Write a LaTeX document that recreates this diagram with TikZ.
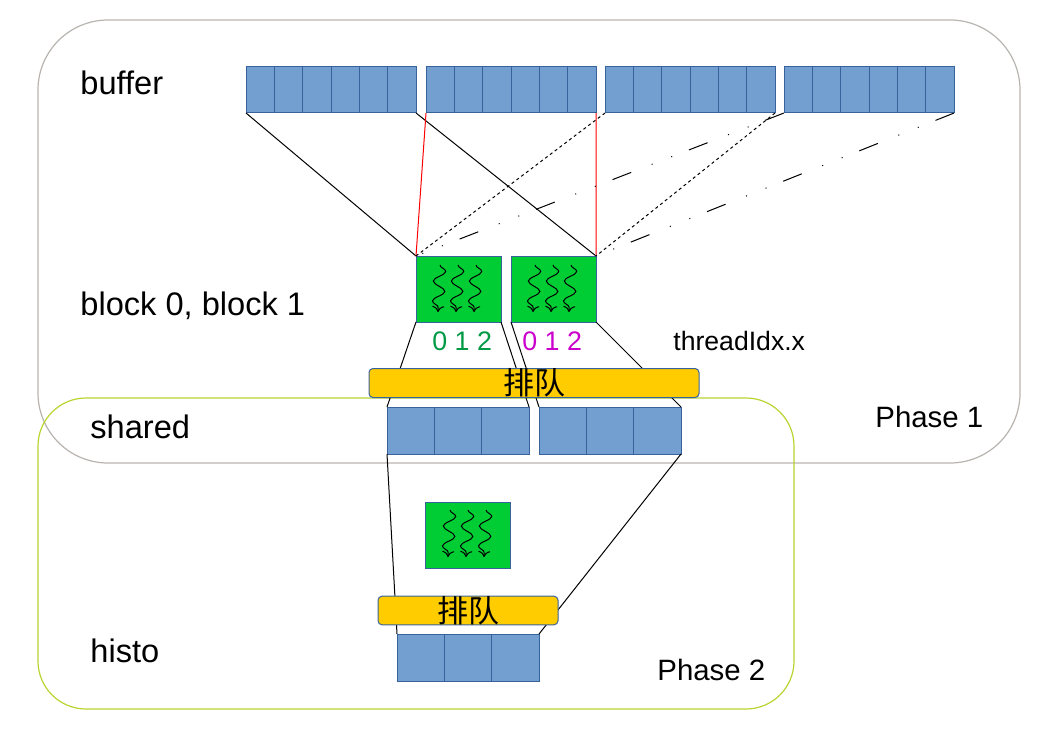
\documentclass[tikz,border=0pt]{standalone}
\usepackage{fontspec}
\setmainfont{Liberation Sans}
\newfontfamily\cjk{Noto Sans CJK SC}
\usepackage{tikz}
\usetikzlibrary{decorations.pathmorphing,arrows.meta}
\usepackage{xcolor}
\definecolor{cellblue}{RGB}{114,159,207}
\definecolor{edgeblue}{RGB}{56,98,156}
\definecolor{blockgreen}{RGB}{0,204,51}
\definecolor{baryellow}{RGB}{255,204,0}
\definecolor{phaseone}{RGB}{184,180,176}
\definecolor{phasetwo}{RGB}{184,212,48}
\definecolor{tidgreen}{RGB}{0,153,68}
\definecolor{tidmagenta}{RGB}{204,0,204}

\begin{document}
\begin{tikzpicture}[x=.5pt, y=-.5pt,
        bcell/.style={rectangle,draw=edgeblue,fill=cellblue,line width=.5pt,inner sep=0,outer sep=0,minimum width=14.17pt,minimum height=23pt},
        scell/.style={bcell,minimum width=23.67pt,minimum height=23.5pt},
        blk/.style={rectangle,draw=edgeblue,fill=blockgreen,line width=.5pt,inner sep=0,outer sep=0,minimum width=42.5pt,minimum height=33pt},
        bar/.style={rectangle,rounded corners=2pt,draw=edgeblue,fill=baryellow,line width=.5pt,inner sep=0,outer sep=0,font=\cjk\fontsize{15.5pt}{15.5pt}\selectfont},
        thread/.style={decorate,decoration={snake,amplitude=3pt,segment length=10pt,post length=2pt},line width=.5pt,-{To[length=3pt,width=6pt]}},
        lbl/.style={anchor=base west,inner sep=0,font=\fontsize{16.3pt}{19pt}\selectfont},
        small/.style={anchor=base west,inner sep=0,font=\fontsize{13.4pt}{16pt}\selectfont},
        dotline/.style={dash pattern=on 1.5pt off 1.5pt},
        dashdotdot/.style={dash pattern=on 10pt off 9pt on .5pt off 10pt on .5pt off 11pt}]
        \useasboundingbox (0,0) rectangle (1044,733);
        % phases
        \draw[phaseone,line width=.6pt,rounded corners=35pt] (38,20) rectangle (1020,463);
        \draw[phasetwo,line width=.6pt,rounded corners=24pt] (38,398) rectangle (794,709);
        % buffer
        \node at (246,67) [bcell,anchor=north west] (buf11) {};
        \node at (buf11.east) [bcell,anchor=west] (buf12) {};
        \node at (buf12.east) [bcell,anchor=west] (buf13) {};
        \node at (buf13.east) [bcell,anchor=west] (buf14) {};
        \node at (buf14.east) [bcell,anchor=west] (buf15) {};
        \node at (buf15.east) [bcell,anchor=west] (buf16) {};
        \node at (426,67) [bcell,anchor=north west] (buf21) {};
        \node at (buf21.east) [bcell,anchor=west] (buf22) {};
        \node at (buf22.east) [bcell,anchor=west] (buf23) {};
        \node at (buf23.east) [bcell,anchor=west] (buf24) {};
        \node at (buf24.east) [bcell,anchor=west] (buf25) {};
        \node at (buf25.east) [bcell,anchor=west] (buf26) {};
        \node at (605,67) [bcell,anchor=north west] (buf31) {};
        \node at (buf31.east) [bcell,anchor=west] (buf32) {};
        \node at (buf32.east) [bcell,anchor=west] (buf33) {};
        \node at (buf33.east) [bcell,anchor=west] (buf34) {};
        \node at (buf34.east) [bcell,anchor=west] (buf35) {};
        \node at (buf35.east) [bcell,anchor=west] (buf36) {};
        \node at (784,67) [bcell,anchor=north west] (buf41) {};
        \node at (buf41.east) [bcell,anchor=west] (buf42) {};
        \node at (buf42.east) [bcell,anchor=west] (buf43) {};
        \node at (buf43.east) [bcell,anchor=west] (buf44) {};
        \node at (buf44.east) [bcell,anchor=west] (buf45) {};
        \node at (buf45.east) [bcell,anchor=west] (buf46) {};
        % blocks
        \node at (416,256) [blk,anchor=north west] (blk0) {};
        \node at (511,256) [blk,anchor=north west] (blk1) {};
        \draw[thread] (440,265) -- (438,312);
        \draw[thread] (458,265) -- (456,312);
        \draw[thread] (476,265) -- (474,312);
        \draw[thread] (535,265) -- (533,312);
        \draw[thread] (553,265) -- (551,312);
        \draw[thread] (571,265) -- (569,312);
        \draw[line width=.5pt] (buf11.south west) -- (blk0.north west);
        \draw[line width=.5pt] (buf16.south east) -- (blk1.north east);
        \draw[red,line width=.5pt] (buf21.south west) -- (blk0.north west);
        \draw[red,line width=.5pt] (buf26.south east) -- (blk1.north east);
        \draw[dotline,line width=.5pt] (buf31.south west) -- (blk0.north west);
        \draw[dotline,line width=.5pt] (buf36.south east) -- (blk1.north east);
        \draw[dashdotdot,line width=.5pt] (buf41.south west) -- (blk0.north west);
        \draw[dashdotdot,line width=.5pt] (buf46.south east) -- (blk1.north east);
        % shared
        \node at (387,407) [scell,anchor=north west] (shA1) {};
        \node at (shA1.east) [scell,anchor=west] (shA2) {};
        \node at (shA2.east) [scell,anchor=west] (shA3) {};
        \node at (539,407) [scell,anchor=north west] (shB1) {};
        \node at (shB1.east) [scell,anchor=west] (shB2) {};
        \node at (shB2.east) [scell,anchor=west] (shB3) {};
        % histo
        \node at (425,502) [blk,anchor=north west] (blk2) {};
        \draw[thread] (450,510) -- (448,557);
        \draw[thread] (468,510) -- (466,557);
        \draw[thread] (486,510) -- (484,557);
        \node at (397,634) [scell,anchor=north west] (hist1) {};
        \node at (hist1.east) [scell,anchor=west] (hist2) {};
        \node at (hist2.east) [scell,anchor=west] (hist3) {};
        \draw[line width=.5pt] (blk0.south west) -- (shA1.north west);
        \draw[line width=.5pt] (blk0.south east) -- (shA3.north east);
        \draw[line width=.5pt] (blk1.south west) -- (shB1.north west);
        \draw[line width=.5pt] (blk1.south east) -- (shB3.north east);
        \draw[line width=.5pt] (shA1.south west) -- (hist1.north west);
        \draw[line width=.5pt] (shB3.south east) -- (hist3.north east);
        \node at (534,383) [bar,minimum width=165pt,minimum height=14.5pt] (queue0) {排队};
        \node at (468,610.5) [bar,minimum width=90pt,minimum height=13.5pt] (queue1) {排队};
        % labels
        \node at (80,95) [lbl] (buflbl) {buffer};
        \node at (80,315) [lbl] (blklbl) {block 0, block 1};
        \node at (90,438) [lbl] (shlbl) {shared};
        \node at (90,662) [lbl] (histlbl) {histo};
        \node at (432,350) [small,tidgreen] (tid0) {0 1 2};
        \node at (522,350) [small,tidmagenta] (tid1) {0 1 2};
        \node at (673,350) [small,font=\fontsize{13.3pt}{16pt}\selectfont] (tidlbl) {threadIdx.x};
        \node at (875,427) [small,font=\fontsize{14.7pt}{17pt}\selectfont] (ph1lbl) {Phase 1};
        \node at (657,680) [small,font=\fontsize{14.7pt}{17pt}\selectfont] (ph2lbl) {Phase 2};
    \end{tikzpicture}
\end{document}
